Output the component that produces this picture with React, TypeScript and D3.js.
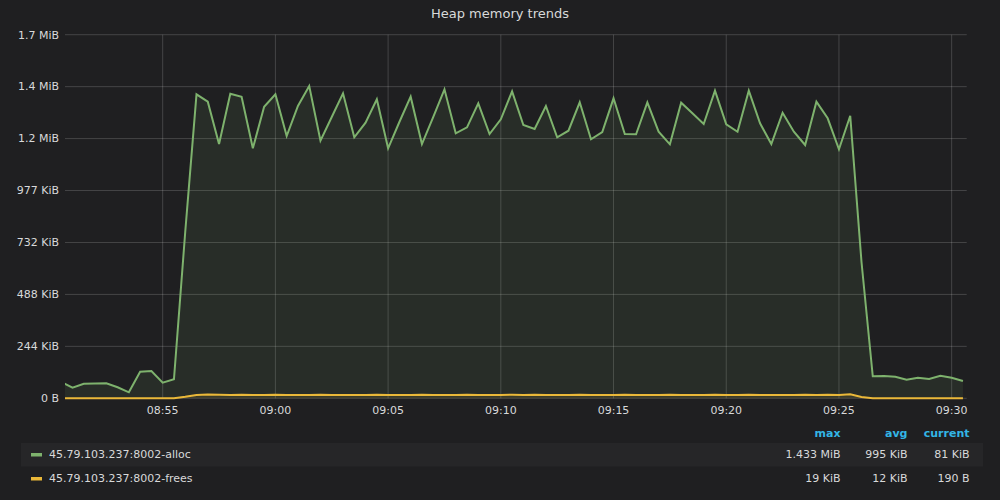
import React from 'react'
import * as d3 from 'd3'

// samples every 30s, starting 08:50:30
const startTime = '08:50:30'
const stepSeconds = 30

// heap alloc, KiB
const allocKiB = [
  76.6, 49.8, 68.6, 69.6, 70.5, 51.7, 28.2, 125, 128.3, 73.3, 89.3, 781.6,
  1428.8, 1394, 1195.2, 1431.6, 1417.5, 1175, 1370.5, 1428.8, 1232.8, 1373.8,
  1467.4, 1210.7, 1322.1, 1433.5, 1226.7, 1295.3, 1405.3, 1175, 1298.6, 1417.5,
  1195.2, 1322.1, 1452.3, 1245.5, 1273.7, 1386.5, 1242.2, 1311.3, 1442.9, 1284.5,
  1265.7, 1373.8, 1226.7, 1257.7, 1391.2, 1217.3, 1251.6, 1410, 1242.2, 1240.8,
  1391.2, 1253, 1193.8, 1389.3, 1339.5, 1289.2, 1445.7, 1287.8, 1253, 1445.7,
  1292.5, 1195.2, 1342.3, 1253, 1190.5, 1394, 1316, 1170.3, 1328.2, 640.6,
  103.4, 104.8, 101.5, 87.4, 96.8, 90.7, 106.2, 96.8, 81,
]

// heap frees, KiB
const freesKiB = [
  0, 0, 0, 0, 0, 0, 0, 0, 0, 0, 0, 7,
  16, 18, 17, 16, 17, 15, 16, 17, 16, 15, 16, 17, 16, 15, 15, 16, 17, 16,
  15, 16, 17, 16, 15, 16, 17, 16, 15, 16, 17, 16, 17, 16, 15, 16, 17, 16,
  15, 16, 17, 16, 16, 15, 17, 16, 15, 16, 17, 16, 15, 17, 16, 16, 15, 16,
  17, 16, 17, 16, 19, 6,
  0, 0, 0, 0, 0, 0, 0, 0, 0.186,
]

const seriesNames = ['45.79.103.237:8002-alloc', '45.79.103.237:8002-frees']
const seriesColors = ['#7eb26d', '#eab839']
const legendMax = ['1.433 MiB', '19 KiB']
const legendAvg = ['995 KiB', '12 KiB']
const legendCurrent = ['81 KiB', '190 B']
const legendHeaders = ['max', 'avg', 'current']

const yTickBytes = [0, 250000, 500000, 750000, 1000000, 1250000, 1500000, 1750000]
const yTickLabels = ['0 B', '244 KiB', '488 KiB', '732 KiB', '977 KiB', '1.2 MiB', '1.4 MiB', '1.7 MiB']
const xTickLabels = ['08:55', '09:00', '09:05', '09:10', '09:15', '09:20', '09:25', '09:30']
const xDomain = ['08:50:40', '09:30:40']

const title = 'Heap memory trends'

const toDate = (hms: string) => {
  const [h, m, s] = hms.split(':').map(Number)
  return new Date(Date.UTC(2020, 0, 1, h, m, s || 0))
}

const App = () => {
  const width = 1000
  const height = 500
  const left = 65
  const right = 966.7
  const top = 34.7
  const bottom = 398.3
  const font = 'DejaVu Sans, sans-serif'

  const t0 = toDate(startTime).getTime()
  const times = allocKiB.map((_, i) => new Date(t0 + i * stepSeconds * 1000))

  const x = d3.scaleUtc().domain(xDomain.map(toDate)).range([left, right])
  const y = d3.scaleLinear().domain([0, 1750000]).range([bottom, top])

  const series = [allocKiB, freesKiB].map((vals) =>
    vals.map((v, i) => ({ t: times[i], b: v * 1024 }))
  )

  const line = d3
    .line<{ t: Date; b: number }>()
    .x((d) => x(d.t))
    .y((d) => y(d.b))
  const area = d3
    .area<{ t: Date; b: number }>()
    .x((d) => x(d.t))
    .y0(y(0))
    .y1((d) => y(d.b))

  const gridColor = 'rgba(255,255,255,0.17)'
  const textColor = '#d8d9da'
  const colRight = [840.5, 907.5, 969.5]

  return (
    <svg
      width={width}
      height={height}
      style={{ position: 'absolute', left: 0, top: 0, background: '#1f1f21' }}
      fontFamily={font}
    >
      <rect x={0} y={0} width={width} height={height} fill="#1f1f21" />
      <text x={500} y={18} textAnchor="middle" fill={textColor} fontSize={13}>
        {title}
      </text>

      <defs>
        <clipPath id="plotClip">
          <rect x={left} y={0} width={right - left} height={bottom + 2} />
        </clipPath>
      </defs>

      {/* grid */}
      {yTickBytes.map((b, i) => (
        <g key={'y' + i}>
          <line x1={left} x2={right} y1={y(b)} y2={y(b)} stroke={gridColor} />
          <text
            x={left - 6}
            y={y(b)}
            dy="0.35em"
            textAnchor="end"
            fill={textColor}
            fontSize={11}
          >
            {yTickLabels[i]}
          </text>
        </g>
      ))}
      {xTickLabels.map((lab) => (
        <g key={lab}>
          <line
            x1={x(toDate(lab))}
            x2={x(toDate(lab))}
            y1={top}
            y2={bottom}
            stroke={gridColor}
          />
          <text
            x={x(toDate(lab))}
            y={414}
            textAnchor="middle"
            fill={textColor}
            fontSize={11}
          >
            {lab}
          </text>
        </g>
      ))}

      <g clipPath="url(#plotClip)">
        {series.map((s, i) => (
          <path key={'a' + i} d={area(s) || ''} fill={seriesColors[i]} fillOpacity={0.1} />
        ))}
        {series.map((s, i) => (
          <path
            key={'l' + i}
            d={line(s) || ''}
            fill="none"
            stroke={seriesColors[i]}
            strokeWidth={2}
            strokeLinejoin="miter"
          />
        ))}
      </g>

      {/* legend table */}
      {legendHeaders.map((h, i) => (
        <text
          key={h}
          x={colRight[i]}
          y={433}
          dy="0.35em"
          textAnchor="end"
          fill="#33b5e5"
          fontSize={11}
          fontWeight="bold"
        >
          {h}
        </text>
      ))}
      <rect x={21} y={443} width={962} height={23.5} fill="#262628" />
      {seriesNames.map((name, i) => {
        const cy = 454.5 + i * 24
        return (
          <g key={name}>
            <rect x={31} y={cy - 1.5} width={11} height={3.5} fill={seriesColors[i]} />
            <text x={49} y={cy} dy="0.35em" fill={textColor} fontSize={11}>
              {name}
            </text>
            {[legendMax[i], legendAvg[i], legendCurrent[i]].map((v, j) => (
              <text
                key={j}
                x={colRight[j]}
                y={cy}
                dy="0.35em"
                textAnchor="end"
                fill={textColor}
                fontSize={11}
              >
                {v}
              </text>
            ))}
          </g>
        )
      })}
    </svg>
  )
}

export default App
